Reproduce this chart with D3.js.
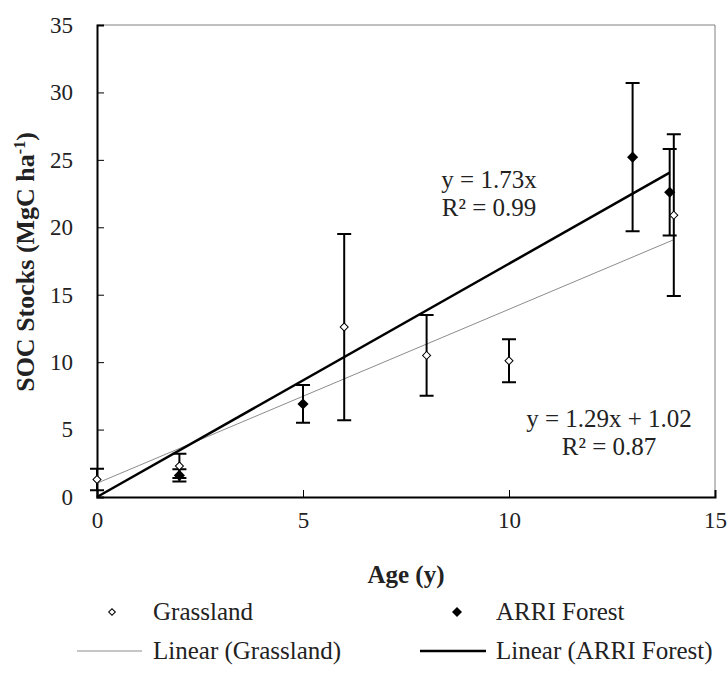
<!DOCTYPE html>
<html>
<head>
<meta charset="utf-8">
<script src="https://cdn.jsdelivr.net/npm/d3@7"></script>
<style>
  body { margin: 0; background: #fff; }
  svg text { font-family: "Liberation Serif", "Times New Roman", "DejaVu Serif", serif !important; fill: #222; }
</style>
</head>
<body>
<svg id="the-chart"></svg>
<script>
// Grassland series: age (y), SOC stock and error
const grassAge = [0, 2, 6, 8, 10, 14];
const grassSoc = [1.3, 2.3, 12.6, 10.5, 10.1, 20.9];
const grassErr = [0.8, 0.9, 6.9, 3.0, 1.6, 6.0];

// ARRI Forest series
const forestAge = [2, 5, 13, 13.9];
const forestSoc = [1.6, 6.9, 25.2, 22.6];
const forestErr = [0.45, 1.4, 5.5, 3.2];

// Linear trendlines [slope, intercept]
const grassFit = [1.29, 1.02];
const forestFit = [1.73, 0];

const xTicks = [0, 5, 10, 15];
const yTicks = [0, 5, 10, 15, 20, 25, 30, 35];

const width = 728;
const height = 673;
const margin = {top: 25, right: 13, bottom: 176, left: 97};

const svg = d3.select("#the-chart")
    .attr("width", width)
    .attr("height", height)
    .attr("viewBox", [0, 0, width, height]);

const x = d3.scaleLinear([0, 15], [margin.left, width - margin.right]);
const y = d3.scaleLinear([0, 35], [height - margin.bottom, margin.top]);

const grass = grassAge.map((a, i) => ({x: a, y: grassSoc[i], e: grassErr[i]}));
const forest = forestAge.map((a, i) => ({x: a, y: forestSoc[i], e: forestErr[i]}));

// top and right frame lines (thin grey)
svg.append("path")
    .attr("d", `M${x(0)},${y(35)}H${x(15)}V${y(0)}`)
    .attr("fill", "none")
    .attr("stroke", "#808080")
    .attr("stroke-width", 1);

// axes, ticks point inwards
const yAxis = svg.append("g")
    .attr("transform", `translate(${x(0)},0)`)
    .call(d3.axisLeft(y).tickValues(yTicks).tickSize(-7).tickPadding(24));

const xAxis = svg.append("g")
    .attr("transform", `translate(0,${y(0)})`)
    .call(d3.axisBottom(x).tickValues(xTicks).tickSize(-7).tickPadding(15));

[xAxis, yAxis].forEach(g => {
    g.attr("font-family", null);
    g.select(".domain").attr("stroke", "#000").attr("stroke-width", 2);
    g.selectAll(".tick line").attr("stroke", "#000");
    g.selectAll(".tick text")
        .attr("font-size", 23)
        .attr("fill", "#222");
});

// trendlines
function trend(fit, xs) {
    const x0 = 0, x1 = d3.max(xs);
    return [[x0, fit[0] * x0 + fit[1]], [x1, fit[0] * x1 + fit[1]]];
}
const line = d3.line().x(d => x(d[0])).y(d => y(d[1]));

svg.append("path")
    .attr("d", line(trend(grassFit, grassAge)))
    .attr("fill", "none")
    .attr("stroke", "#8c8c8c")
    .attr("stroke-width", 1);

svg.append("path")
    .attr("d", line(trend(forestFit, forestAge)))
    .attr("fill", "none")
    .attr("stroke", "#000")
    .attr("stroke-width", 2.5);

// error bars
function errorBars(data) {
    const g = svg.append("g").attr("stroke", "#000").attr("stroke-width", 2);
    g.selectAll("line")
        .data(data)
        .join("line")
        .attr("x1", d => x(d.x)).attr("x2", d => x(d.x))
        .attr("y1", d => y(d.y - d.e)).attr("y2", d => y(d.y + d.e));
    g.selectAll("path")
        .data(data)
        .join("path")
        .attr("d", d => `M${x(d.x) - 7},${y(d.y + d.e)}h14M${x(d.x) - 7},${y(d.y - d.e)}h14`);
}
errorBars(grass);
errorBars(forest);

const diamond = size => d3.symbol(d3.symbolSquare, size)();

svg.append("g")
    .selectAll("path")
    .data(grass)
    .join("path")
    .attr("d", diamond(32))
    .attr("transform", d => `translate(${x(d.x)},${y(d.y)}) rotate(45)`)
    .attr("fill", "#fff")
    .attr("stroke", "#000")
    .attr("stroke-width", 1);

svg.append("g")
    .selectAll("path")
    .data(forest)
    .join("path")
    .attr("d", diamond(62))
    .attr("transform", d => `translate(${x(d.x)},${y(d.y)}) rotate(45)`)
    .attr("fill", "#000");

// equations
const eq = svg.append("g").attr("font-size", 25).attr("text-anchor", "middle");
eq.append("text").attr("x", 489).attr("y", 188).text("y = 1.73x");
eq.append("text").attr("x", 489).attr("y", 216).text("R² = 0.99");
eq.append("text").attr("x", 609).attr("y", 427).text("y = 1.29x + 1.02");
eq.append("text").attr("x", 609).attr("y", 455).text("R² = 0.87");

// axis titles
svg.append("text")
    .attr("x", (x(0) + x(15)) / 2)
    .attr("y", 583)
    .attr("text-anchor", "middle")
    .attr("font-size", 25)
    .attr("font-weight", "bold")
    .text("Age (y)");

const yt = svg.append("text")
    .attr("transform", `translate(34,${(y(0) + y(35)) / 2 + 1}) rotate(-90)`)
    .attr("text-anchor", "middle")
    .attr("font-size", 26)
    .attr("font-weight", "bold");
yt.append("tspan").text("SOC Stocks (MgC ha");
yt.append("tspan").attr("dy", -9).attr("font-size", 16).text("-1");
yt.append("tspan").attr("dy", 9).text(")");

// legend
const lg = svg.append("g").attr("font-size", 25);
lg.append("path").attr("d", diamond(22)).attr("transform", "translate(112,612) rotate(45)")
    .attr("fill", "#fff").attr("stroke", "#000");
lg.append("text").attr("x", 153).attr("y", 620).text("Grassland");
lg.append("path").attr("d", diamond(50)).attr("transform", "translate(457,612) rotate(45)")
    .attr("fill", "#000");
lg.append("text").attr("x", 496).attr("y", 620).text("ARRI Forest");

lg.append("line").attr("x1", 77).attr("x2", 142).attr("y1", 651).attr("y2", 651)
    .attr("stroke", "#8c8c8c").attr("stroke-width", 1);
lg.append("text").attr("x", 153).attr("y", 659).text("Linear (Grassland)");
lg.append("line").attr("x1", 420).attr("x2", 486).attr("y1", 651).attr("y2", 651)
    .attr("stroke", "#000").attr("stroke-width", 2.5);
lg.append("text").attr("x", 496).attr("y", 659).text("Linear (ARRI Forest)");
</script>
</body>
</html>
